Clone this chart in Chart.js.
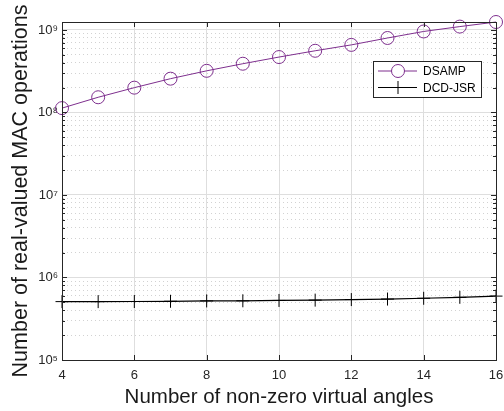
<!DOCTYPE html>
<html lang="en">
<head>
    <meta charset="UTF-8">
    <title>MAC operations vs virtual angles</title>
    <script src="https://cdn.jsdelivr.net/npm/chart.js"></script>
    <style>
        html, body { margin: 0; padding: 0; background: #fff; }
        #wrap { width: 504px; height: 411px; }
    </style>
</head>
<body>
    <div id="wrap"><canvas id="chart" width="504" height="411"></canvas></div>

    <script>
        // data
        const angles = [4, 5, 6, 7, 8, 9, 10, 11, 12, 13, 14, 15, 16];
        const dsamp = [1.13e8, 1.53e8, 2.0e8, 2.57e8, 3.2e8, 3.9e8, 4.7e8, 5.6e8, 6.6e8, 8.0e8, 9.6e8, 1.1e9, 1.25e9];
        const dcdJsr = [5.1e5, 5.1e5, 5.12e5, 5.15e5, 5.2e5, 5.22e5, 5.27e5, 5.32e5, 5.4e5, 5.48e5, 5.6e5, 5.75e5, 5.95e5];
        const xTicks = [4, 6, 8, 10, 12, 14, 16];
        const decades = [5, 6, 7, 8, 9];
        const yMin = 1e5, yMax = 1.25e9;

        const sup = { '5': '\u2075', '6': '\u2076', '7': '\u2077', '8': '\u2078', '9': '\u2079' };
        const purple = '#7E2F8E';
        const axisCol = '#262626';
        const font = '"Liberation Sans", Arial, sans-serif';

        const pts = (ys) => angles.map((a, i) => ({ x: a, y: ys[i] }));

        function isDecade(v) {
            const l = Math.log10(v);
            return Math.abs(l - Math.round(l)) < 1e-9;
        }

        // box around plot, inward ticks (matlab style) + legend inside the axes
        const boxAndLegend = {
            id: 'boxAndLegend',
            afterDatasetsDraw(chart) {
                const { ctx, chartArea: a } = chart;
                const xs = chart.scales.x, ys = chart.scales.y;
                ctx.save();
                ctx.strokeStyle = axisCol;
                ctx.lineWidth = 1;
                ctx.strokeRect(Math.round(a.left) + 0.5, Math.round(a.top) + 0.5,
                    Math.round(a.right - a.left), Math.round(a.bottom - a.top));

                ctx.beginPath();
                xs.ticks.forEach(t => {
                    const px = Math.round(xs.getPixelForValue(t.value)) + 0.5;
                    ctx.moveTo(px, a.bottom); ctx.lineTo(px, a.bottom - 5);
                    ctx.moveTo(px, a.top); ctx.lineTo(px, a.top + 5);
                });
                ys.ticks.forEach(t => {
                    const py = Math.round(ys.getPixelForValue(t.value)) + 0.5;
                    const len = isDecade(t.value) ? 5 : 3;
                    ctx.moveTo(a.left, py); ctx.lineTo(a.left + len, py);
                    ctx.moveTo(a.right, py); ctx.lineTo(a.right - len, py);
                });
                ctx.stroke();

                // legend
                const lx = 373, ly = 61, lw = 108, lh = 36;
                ctx.fillStyle = '#fff';
                ctx.fillRect(lx, ly, lw, lh);
                ctx.strokeStyle = axisCol;
                ctx.strokeRect(lx + 0.5, ly + 0.5, lw, lh);
                ctx.font = '12px ' + font;
                ctx.textBaseline = 'middle';
                chart.data.datasets.forEach((ds, i) => {
                    const cy = ly + 10 + i * 16.5;
                    ctx.strokeStyle = ds.borderColor;
                    ctx.lineWidth = 1;
                    ctx.beginPath();
                    ctx.moveTo(lx + 5, cy);
                    ctx.lineTo(lx + 44, cy);
                    ctx.stroke();
                    Chart.helpers.drawPoint(ctx, {
                        pointStyle: ds.pointStyle, radius: ds.pointRadius,
                        borderWidth: 1, rotation: 0
                    }, lx + 25, cy);
                    ctx.fillStyle = '#000';
                    ctx.fillText(ds.label, lx + 50, cy + 1);
                });
                ctx.restore();
            }
        };

        new Chart(document.getElementById('chart'), {
            type: 'line',
            data: {
                datasets: [
                    {
                        label: 'DSAMP',
                        data: pts(dsamp),
                        borderColor: purple,
                        backgroundColor: 'rgba(0,0,0,0)',
                        borderWidth: 1,
                        pointStyle: 'circle',
                        pointRadius: 6.5,
                        pointBorderWidth: 1,
                        pointBorderColor: purple,
                        pointBackgroundColor: 'rgba(0,0,0,0)'
                    },
                    {
                        label: 'DCD-JSR',
                        data: pts(dcdJsr),
                        borderColor: '#000',
                        backgroundColor: 'rgba(0,0,0,0)',
                        borderWidth: 1.2,
                        pointStyle: 'cross',
                        pointRadius: 6.5,
                        pointBorderWidth: 1,
                        pointBorderColor: '#000'
                    }
                ]
            },
            options: {
                responsive: false,
                animation: false,
                clip: false,
                layout: { padding: { top: 22, right: 8, left: 0, bottom: 0 } },
                plugins: {
                    legend: { display: false },
                    tooltip: { enabled: false }
                },
                scales: {
                    x: {
                        type: 'linear',
                        min: 4,
                        max: 16,
                        afterBuildTicks: (s) => { s.ticks = xTicks.map(v => ({ value: v })); },
                        afterFit: (s) => { s.height = 51; s.paddingLeft = 0; s.paddingRight = 0; },
                        grid: { color: '#dedede', drawTicks: false },
                        border: { color: axisCol },
                        ticks: {
                            color: axisCol,
                            font: { family: font, size: 13 },
                            padding: 8,
                            maxRotation: 0
                        },
                        title: {
                            display: true,
                            text: 'Number of non-zero virtual angles',
                            color: '#1a1a1a',
                            font: { family: font, size: 20.5 },
                            padding: { top: 0, bottom: 1 }
                        }
                    },
                    y: {
                        type: 'logarithmic',
                        min: yMin,
                        max: yMax,
                        afterBuildTicks: (s) => {
                            const t = [];
                            decades.forEach(e => {
                                for (let m = 1; m <= 9; m++) {
                                    const v = m * Math.pow(10, e);
                                    if (v <= yMax) t.push({ value: v, major: m === 1 });
                                }
                            });
                            s.ticks = t;
                        },
                        afterFit: (s) => { s.width = 62; s.paddingTop = 0; s.paddingBottom = 0; },
                        grid: {
                            drawTicks: false,
                            color: (c) => (c.tick && isDecade(c.tick.value)) ? '#dedede' : '#d2d2d2'
                        },
                        border: {
                            color: axisCol,
                            dash: (c) => (c.tick && isDecade(c.tick.value)) ? [] : [1, 3]
                        },
                        ticks: {
                            autoSkip: false,
                            color: axisCol,
                            font: { family: font, size: 13 },
                            padding: 4,
                            callback: (v) => isDecade(v) ? '10' + sup[String(Math.round(Math.log10(v)))] : ''
                        },
                        title: {
                            display: true,
                            text: 'Number of real-valued MAC operations',
                            color: '#1a1a1a',
                            font: { family: font, size: 21.5 },
                            padding: { top: 8, bottom: 0 }
                        }
                    }
                }
            },
            plugins: [boxAndLegend]
        });
    </script>
</body>
</html>
